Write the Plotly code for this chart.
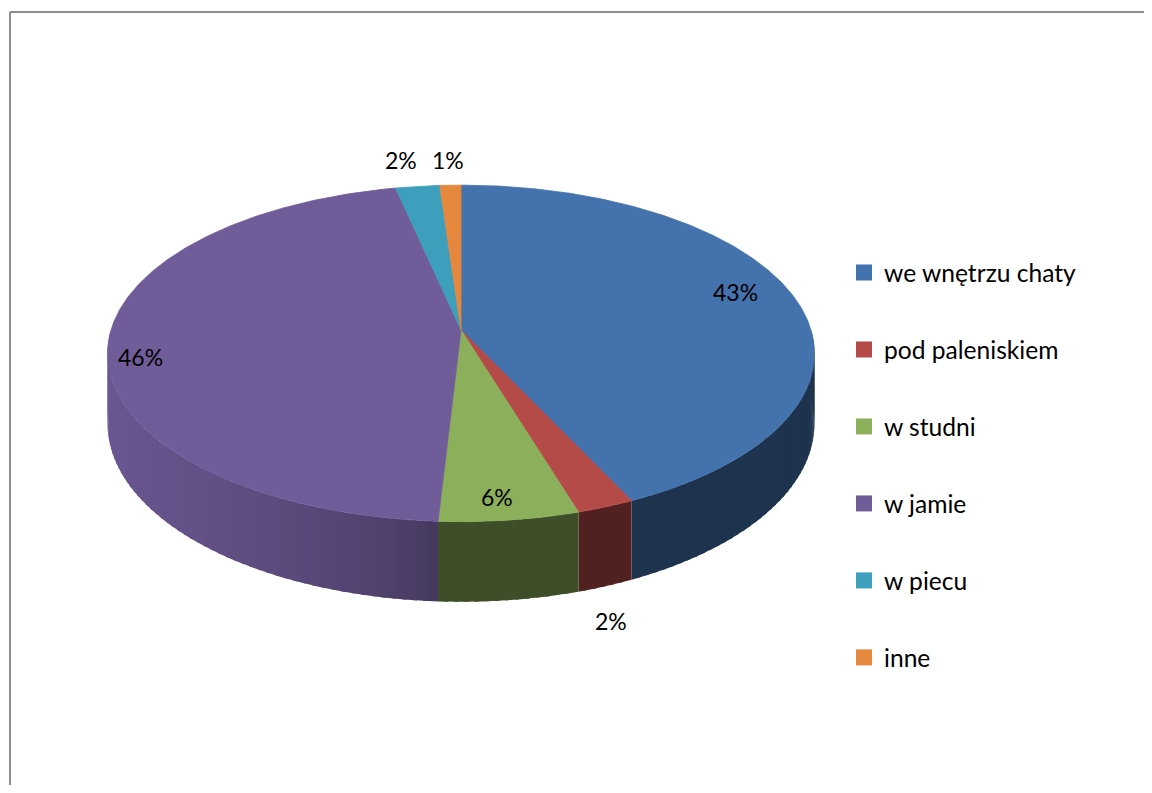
import numpy as np
import plotly.graph_objects as go

# ---- data ----
categories = ["we wnętrzu chaty", "pod paleniskiem", "w studni", "w jamie", "w piecu", "inne"]
values = [43.0, 2.3, 5.6, 45.7, 2.3, 1.1]
label_texts = [f"{round(v)}%" for v in values]

# ---- style / layout ----
top_colors = ["#4472AC", "#B54B48", "#8BAF5B", "#715C9A", "#3D9FBB", "#E6873E"]
label_pos = [(735, 292), (611, 621), (497, 497), (140, 357), (401, 160), (448, 160)]
W, H = 1152, 793
OFF = 8                    # page body margin of the html page
CX, CY = 461.0, 330.0      # pie centre (pixels)
A, B = 350.0, 165.0        # ellipse radii before perspective
K = 0.139                  # perspective strength
D = 69.0                   # thickness
FONT = "Lato"
FW, FH = W - 2 * OFF, H - 2 * OFF


def proj(u, v, drop=0.0):
    w = 1.0 / (1.0 - K * v)
    return CX + A * u * w, CY + B * v * w + drop * w


def rim(theta_deg, drop=0.0):
    t = np.radians(theta_deg)
    return proj(np.sin(t), -np.cos(t), drop)


def hex2rgb(h):
    h = h.lstrip("#")
    return [int(h[i:i + 2], 16) for i in (0, 2, 4)]


def shade(hexcol, theta_deg):
    s = -np.sin(np.radians(theta_deg))
    f = 0.45 if s < 0.06 else 0.45 + 0.5 * s ** 0.4
    r, g, b = hex2rgb(hexcol)
    return f"rgb({int(r * f)},{int(g * f)},{int(b * f)})"


fig = go.Figure()

total = sum(values)
bounds = np.concatenate([[0], np.cumsum(values)]) / total * 360.0

# side walls (front half only: 90..270 deg)
for i, col in enumerate(top_colors):
    a0, a1 = max(bounds[i], 90.0), min(bounds[i + 1], 270.0)
    if a1 <= a0:
        continue
    n = max(2, int(np.ceil((a1 - a0) / 1.5)))
    edges = np.linspace(a0, a1, n + 1)
    for j in range(n):
        ta, tb = edges[j], min(edges[j + 1] + 0.6, a1)
        ts = np.linspace(ta, tb, 4)
        xs, ys = [], []
        for t in ts:
            x, y = rim(t)
            xs.append(x); ys.append(y)
        for t in ts[::-1]:
            x, y = rim(t, D)
            xs.append(x); ys.append(y)
        xs.append(xs[0]); ys.append(ys[0])
        c = shade(col, (edges[j] + edges[j + 1]) / 2)
        fig.add_trace(go.Scatter(
            x=xs, y=ys, mode="lines", fill="toself", fillcolor=c,
            line=dict(width=0), hoverinfo="skip", showlegend=False))

# top faces
for i, col in enumerate(top_colors):
    ts = np.linspace(bounds[i], bounds[i + 1], max(3, int((bounds[i + 1] - bounds[i]) / 0.5)))
    xs, ys = [CX], [CY]
    for t in ts:
        x, y = rim(t)
        xs.append(x); ys.append(y)
    xs.append(CX); ys.append(CY)
    fig.add_trace(go.Scatter(
        x=xs, y=ys, mode="lines", fill="toself", fillcolor=col,
        line=dict(color=col, width=0.8), hoverinfo="skip", showlegend=False,
        name=categories[i]))

# legend entries
for i, col in enumerate(top_colors):
    fig.add_trace(go.Scatter(
        x=[None], y=[None], mode="markers", name=categories[i],
        marker=dict(symbol="square", size=16, color=col),
        legendgroup=f"g{i}", showlegend=True))

# labels
for txt, (lx, ly) in zip(label_texts, label_pos):
    fig.add_annotation(x=lx, y=ly, text=txt, showarrow=False,
                       font=dict(family=FONT, size=23, color="#000000"),
                       xanchor="center", yanchor="middle")

# chart border (only top and left edges are inside the picture)
fig.add_shape(type="line", xref="paper", yref="y",
              x0=(10 - OFF) / FW, x1=1.0, y0=12, y1=12,
              line=dict(color="#8E8E8E", width=2), layer="above")
fig.add_shape(type="line", xref="x", yref="paper",
              x0=10, x1=10, y0=0.0, y1=1 - (12 - OFF) / FH,
              line=dict(color="#8E8E8E", width=2), layer="above")

fig.update_layout(
    width=FW, height=FH,
    margin=dict(l=0, r=0, t=0, b=0),
    paper_bgcolor="white", plot_bgcolor="white",
    xaxis=dict(range=[OFF, OFF + FW], visible=False, fixedrange=True),
    yaxis=dict(range=[OFF + FH, OFF], visible=False, fixedrange=True),
    showlegend=True,
    legend=dict(x=(844 - OFF) / FW, y=1 - (250 - OFF) / FH,
                xanchor="left", yanchor="top",
                font=dict(family=FONT, size=24.6, color="#000000"),
                tracegroupgap=42, traceorder="grouped",
                bgcolor="rgba(0,0,0,0)", itemwidth=30),
)

fig.write_html("out.html")
